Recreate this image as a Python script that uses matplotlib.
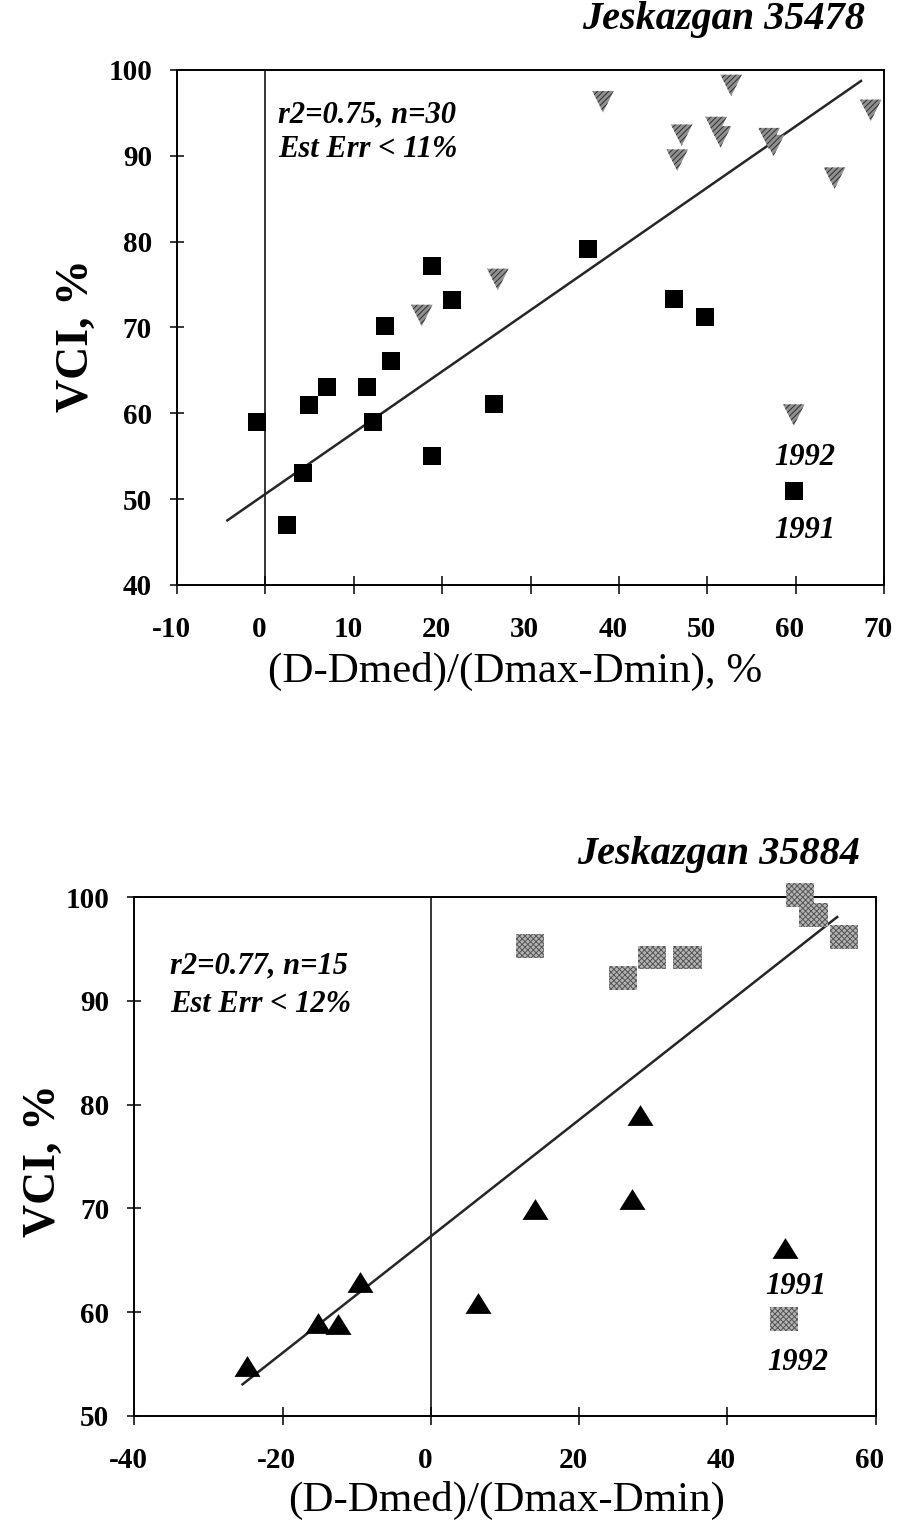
import matplotlib
matplotlib.use("Agg")
import matplotlib.pyplot as plt
from matplotlib.transforms import ScaledTranslation
import numpy as np

plt.rcParams['font.family'] = ['Liberation Serif', 'DejaVu Serif']
plt.rcParams['axes.unicode_minus'] = False
plt.rcParams['hatch.linewidth'] = 0.7

# ---- Station 35478 -------------------------------------------------------
st1_title = "Jeskazgan 35478"
st1_x_1991 = [-1.0, 2.5, 4.3, 4.9, 7.0, 11.5, 12.2, 13.5, 14.2, 18.8, 18.9,
              21.1, 25.9, 36.5, 46.2, 49.7]
st1_vci_1991 = [59.0, 47.0, 53.1, 61.0, 63.1, 63.1, 59.0, 70.2, 66.1, 55.0,
                77.2, 73.2, 61.1, 79.1, 73.3, 71.2]
st1_x_1992 = [17.7, 26.3, 38.2, 46.6, 47.1, 51.0, 51.5, 52.7, 57.0, 57.5,
              64.4, 68.5]
st1_vci_1992 = [71.4, 75.6, 96.3, 89.5, 92.4, 93.3, 92.2, 98.2, 92.0, 91.2,
                87.4, 95.3]
st1_fit_intercept = 50.6
st1_fit_slope = 0.714
st1_fit_xrange = [-4.3, 67.4]
st1_stats = ["r2=0.75, n=30", "Est Err < 11%"]
st1_xticks = [-10, 0, 10, 20, 30, 40, 50, 60, 70]
st1_yticks = [40, 50, 60, 70, 80, 90, 100]
st1_xlabel = "(D-Dmed)/(Dmax-Dmin), %"

# ---- Station 35884 -------------------------------------------------------
st2_title = "Jeskazgan 35884"
st2_x_1991 = [-24.8, -15.2, -12.5, -9.6, 6.4, 14.1, 27.1, 28.2]
st2_vci_1991 = [54.8, 58.9, 58.8, 62.9, 60.9, 69.9, 70.9, 79.0]
st2_x_1992 = [13.4, 25.9, 29.8, 34.6, 49.8, 51.6, 55.7]
st2_vci_1992 = [95.3, 92.2, 94.2, 94.2, 100.2, 98.3, 96.2]
st2_fit_intercept = 67.3
st2_fit_slope = 0.562
st2_fit_xrange = [-25.4, 54.8]
st2_stats = ["r2=0.77, n=15", "Est Err < 12%"]
st2_xticks = [-40, -20, 0, 20, 40, 60]
st2_yticks = [50, 60, 70, 80, 90, 100]
st2_xlabel = "(D-Dmed)/(Dmax-Dmin)"

ylabel = "VCI, %"

W, H = 897, 1524
fig = plt.figure(figsize=(W / 100, H / 100), dpi=100)
fig.patch.set_facecolor('white')

# marker shapes
wide_tri = [(0, 1), (-1.25, -1), (1.25, -1), (0, 1)]
wide_sq = [(-1.2, -1), (1.2, -1), (1.2, 1), (-1.2, 1), (-1.2, -1)]

TRI92 = dict(marker='v', s=240, facecolor='#909090', edgecolor='#2e2e2e',
             linewidths=0, hatch='//////')
SQ91 = dict(marker='s', s=185, color='black', linewidths=0)
SQ92 = dict(marker=wide_sq, s=420, facecolor='#b4b4b4', edgecolor='#555555',
            linewidths=0, hatch='xxxxxx')
TRI91 = dict(marker=wide_tri, s=350, color='black', linewidths=0)
KEYTXT = dict(fontsize=22, fontweight='bold', fontstyle='italic',
              ha='center', va='center')
STATTXT = dict(fontsize=22, fontweight='bold', fontstyle='italic',
               ha='left', va='center')

# x tick labels sit slightly left of their ticks
xlab_shift = ScaledTranslation(-6 / 100, 0, fig.dpi_scale_trans)


def frame(ax, xticks, yticks):
    ax.set_xlim(xticks[0], xticks[-1])
    ax.set_ylim(yticks[0], yticks[-1])
    ax.set_xticks(xticks)
    ax.set_yticks(yticks)
    for s in ax.spines.values():
        s.set_linewidth(1.4)
    ax.tick_params(axis='x', direction='inout', length=13, width=1.1,
                   labelsize=21, pad=16)
    ax.tick_params(axis='y', direction='inout', length=10, width=1.1,
                   labelsize=21, pad=13)
    for lab in ax.get_xticklabels() + ax.get_yticklabels():
        lab.set_fontweight('bold')
    for lab in ax.get_xticklabels():
        lab.set_transform(lab.get_transform() + xlab_shift)
    ax.axvline(0, color='black', lw=1.1, zorder=1)


# ---- top panel -------------------------------------------------------------
ax1 = fig.add_axes([177 / W, 1 - 585 / H, 707 / W, 515 / H])
frame(ax1, st1_xticks, st1_yticks)

fx = np.array(st1_fit_xrange)
ax1.plot(fx, st1_fit_intercept + st1_fit_slope * fx, color='#262626',
         lw=1.8, zorder=2)
ax1.scatter(st1_x_1992, st1_vci_1992, zorder=3, clip_on=False, **TRI92)
ax1.scatter(st1_x_1991, st1_vci_1991, zorder=4, clip_on=False, **SQ91)

# key
ax1.scatter([59.8], [59.8], zorder=3, **TRI92)
ax1.text(61.0, 54.9, "1992", **KEYTXT)
ax1.scatter([59.8], [51.0], zorder=4, **SQ91)
ax1.text(61.0, 46.4, "1991", **KEYTXT)

ax1.text(0.143, 0.913, st1_stats[0], transform=ax1.transAxes, **STATTXT)
ax1.text(0.143, 0.845, st1_stats[1], transform=ax1.transAxes, **STATTXT)

ax1.set_ylabel(ylabel, fontsize=33, fontweight='bold', va='center',
               ha='center')
ax1.yaxis.set_label_coords(-0.142, 0.484)
ax1.set_xlabel(st1_xlabel, fontsize=31, va='center', ha='center')
ax1.xaxis.set_label_coords(0.478, -0.167)

fig.text(865 / W, 1 - 19 / H, st1_title, fontsize=29, fontweight='bold',
         fontstyle='italic', ha='right', va='center')

# ---- bottom panel ----------------------------------------------------------
ax2 = fig.add_axes([134.3 / W, 1 - 1415.7 / H, 741.4 / W, 518.4 / H])
frame(ax2, st2_xticks, st2_yticks)

fx = np.array(st2_fit_xrange)
ax2.plot(fx, st2_fit_intercept + st2_fit_slope * fx, color='#262626',
         lw=1.8, zorder=2)
ax2.scatter(st2_x_1992, st2_vci_1992, zorder=3, clip_on=False, **SQ92)
ax2.scatter(st2_x_1991, st2_vci_1991, zorder=4, clip_on=False, **TRI91)

# key
ax2.scatter([47.7], [66.2], zorder=4, **TRI91)
ax2.text(49.2, 62.5, "1991", **KEYTXT)
ax2.scatter([47.6], [59.3], zorder=3, **SQ92)
ax2.text(49.5, 55.1, "1992", **KEYTXT)

ax2.text(0.048, 0.8675, st2_stats[0], transform=ax2.transAxes, **STATTXT)
ax2.text(0.048, 0.7923, st2_stats[1], transform=ax2.transAxes, **STATTXT)

ax2.set_ylabel(ylabel, fontsize=33, fontweight='bold', va='center',
               ha='center')
ax2.yaxis.set_label_coords(-0.122, 0.493)
ax2.set_xlabel(st2_xlabel, fontsize=31, va='center', ha='center')
ax2.xaxis.set_label_coords(0.5027, -0.1645)

fig.text(860 / W, 1 - 854 / H, st2_title, fontsize=29, fontweight='bold',
         fontstyle='italic', ha='right', va='center')

fig.savefig("out.png", dpi=100, facecolor='white')
